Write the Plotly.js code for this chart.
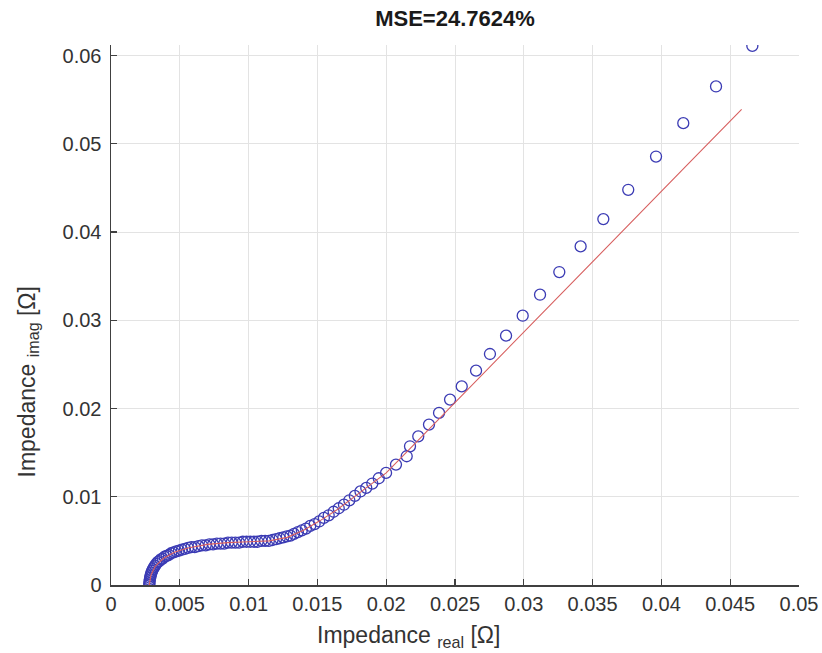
<!DOCTYPE html>
<html>
<head>
<meta charset="utf-8">
<script src="https://cdn.plot.ly/plotly-3.0.1.min.js"></script>
<style>html,body{margin:0;padding:0;background:#fff;}#chart{width:822px;height:653px;}</style>
</head>
<body>
<div id="chart"></div>
<script>
// Measured impedance (open circles)
const measReal = [
  0.00278, 0.00279, 0.00280, 0.00282, 0.00284, 0.00287, 0.00290, 0.00294, 0.00299, 0.00305,
  0.00312, 0.00320, 0.00329, 0.00339, 0.00350, 0.00362, 0.00375, 0.00389, 0.00404, 0.00420,
  0.00437, 0.00455, 0.00474, 0.00494, 0.00515, 0.00537, 0.00560, 0.00584, 0.00609, 0.00635,
  0.00661, 0.00688, 0.00715, 0.00742, 0.00769, 0.00796, 0.00823, 0.00850, 0.00877, 0.00904,
  0.00931, 0.00958, 0.00985, 0.01012, 0.01039, 0.01066, 0.01093, 0.01120, 0.01147, 0.01174,
  0.01200, 0.01226, 0.01252, 0.01278, 0.01304, 0.01330, 0.01358, 0.01387, 0.01417, 0.01448,
  0.01480, 0.01513, 0.01547, 0.01582, 0.01618, 0.01655, 0.01693, 0.01732, 0.01772, 0.01813,
  0.01855, 0.01899, 0.01946, 0.01999, 0.02071, 0.02149, 0.02173, 0.02233, 0.02311, 0.02384,
  0.02464, 0.02549, 0.02653, 0.02754, 0.02871, 0.02992, 0.03118, 0.03258, 0.03413, 0.03578,
  0.03759, 0.03961, 0.04159, 0.04397, 0.04661
];
const measImag = [
  0.0000, 0.0002, 0.0004, 0.0006, 0.0008, 0.0010, 0.0012, 0.0014, 0.0016, 0.0018,
  0.0020, 0.0022, 0.0024, 0.0026, 0.0027, 0.0029, 0.0030, 0.0032, 0.0033, 0.0034,
  0.0036, 0.0037, 0.0038, 0.0039, 0.0040, 0.0041, 0.0042, 0.0043, 0.0043, 0.0044,
  0.0045, 0.0045, 0.0046, 0.0046, 0.0047, 0.0047, 0.0047, 0.0048, 0.0048, 0.0048,
  0.0048, 0.0049, 0.0049, 0.0049, 0.0049, 0.0049, 0.0050, 0.0050, 0.0050, 0.0051,
  0.0052, 0.0053, 0.0054, 0.0055, 0.0056, 0.0058, 0.0060, 0.0062, 0.0064, 0.0067,
  0.0069, 0.0072, 0.0076, 0.0079, 0.0083, 0.0087, 0.0091, 0.0096, 0.0101, 0.0106,
  0.0110, 0.0115, 0.0121, 0.0127, 0.01365, 0.01459, 0.01572, 0.01685, 0.01818, 0.0195,
  0.02101, 0.02251, 0.02429, 0.02618, 0.02826, 0.03052, 0.0329, 0.03547, 0.03837, 0.04147,
  0.04479, 0.04856, 0.05234, 0.0565, 0.0611
];
// Model fit (red line)
const fitReal = [0.00278, 0.00290, 0.00320, 0.00380, 0.00460, 0.00560, 0.00700, 0.00850, 0.01000, 0.01150,
  0.01280, 0.01400, 0.01520, 0.01640, 0.01760, 0.01880, 0.02000, 0.02150, 0.02400, 0.02700,
  0.03000, 0.03300, 0.03600, 0.03900, 0.04200, 0.04583];
const fitImag = [0.0000, 0.0011, 0.0021, 0.0030, 0.0037, 0.0042, 0.0046, 0.0048, 0.0049, 0.0050,
  0.0054, 0.0062, 0.0073, 0.0085, 0.0099, 0.0113, 0.0127, 0.0151, 0.0191, 0.0239,
  0.0287, 0.0334, 0.0382, 0.0430, 0.0478, 0.0539];

const xTickVals = [0, 0.005, 0.01, 0.015, 0.02, 0.025, 0.03, 0.035, 0.04, 0.045, 0.05];
const xTickText = ['0', '0.005', '0.01', '0.015', '0.02', '0.025', '0.03', '0.035', '0.04', '0.045', '0.05'];
const yTickVals = [0, 0.01, 0.02, 0.03, 0.04, 0.05, 0.06];
const yTickText = ['0', '0.01', '0.02', '0.03', '0.04', '0.05', '0.06'];

const titleText = 'MSE=24.7624%';
const xLabel = 'Impedance <sub>real</sub> [Ω]';
const yLabel = 'Impedance <sub>imag</sub> [Ω]';

const FONT = 'Liberation Sans, Arial, Helvetica, sans-serif';

const traces = [
  {
    x: measReal, y: measImag, type: 'scatter', mode: 'markers',
    marker: {symbol: 'circle-open', size: 11, color: '#3b3bb4', line: {width: 1.3}},
    hoverinfo: 'skip', showlegend: false
  },
  {
    x: fitReal, y: fitImag, type: 'scatter', mode: 'lines',
    line: {color: 'rgb(215,95,95)', width: 1.1},
    hoverinfo: 'skip', showlegend: false
  }
];

const axisCommon = {
  showgrid: true, gridcolor: '#e3e3e3', gridwidth: 1,
  showline: true, linecolor: '#404040', linewidth: 1.5, mirror: false,
  ticks: 'inside', ticklen: 6, tickwidth: 1.2, tickcolor: '#404040',
  zeroline: false,
  tickfont: {family: FONT, size: 20, color: '#333333'}
};

const layout = {
  width: 822, height: 653,
  margin: {l: 111, r: 23, t: 45, b: 68, pad: 0},
  paper_bgcolor: '#ffffff', plot_bgcolor: '#ffffff',
  showlegend: false,
  title: {
    text: '<b>' + titleText + '</b>',
    font: {family: FONT, size: 22, color: '#1a1a1a'},
    x: 0.5, xref: 'paper', xanchor: 'center',
    y: 0.972, yref: 'container', yanchor: 'middle'
  },
  xaxis: Object.assign({}, axisCommon, {
    range: [0, 0.05], tickmode: 'array', tickvals: xTickVals, ticktext: xTickText
  }),
  yaxis: Object.assign({}, axisCommon, {
    range: [0, 0.0612], tickmode: 'array', tickvals: yTickVals, ticktext: yTickText,
    ticklabelstandoff: 4
  }),
  annotations: [
    {
      text: xLabel, xref: 'paper', yref: 'paper',
      x: (408 - 111) / 688, y: (585.5 - 637) / 540,
      xanchor: 'center', yanchor: 'middle', showarrow: false,
      font: {family: FONT, size: 23, color: '#333333'}
    },
    {
      text: yLabel, xref: 'paper', yref: 'paper',
      x: (28 - 111) / 688, y: (585.5 - 383) / 540,
      xanchor: 'center', yanchor: 'middle', showarrow: false, textangle: -90,
      font: {family: FONT, size: 23, color: '#333333'}
    }
  ]
};

Plotly.newPlot('chart', traces, layout, {displayModeBar: false, staticPlot: true});
</script>
</body>
</html>
